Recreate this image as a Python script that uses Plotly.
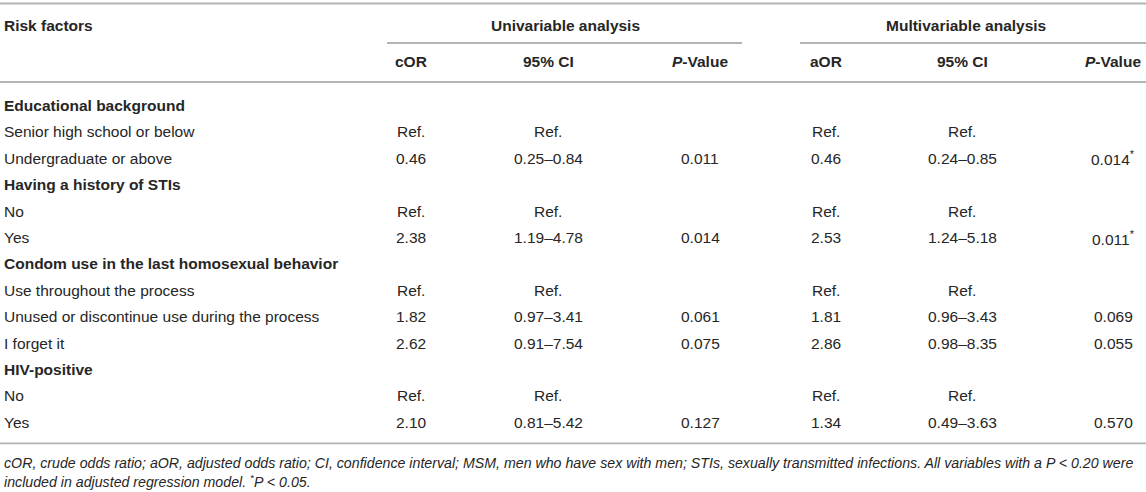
import plotly.graph_objects as go

# table contents
labels = ["Educational background", "Senior high school or below", "Undergraduate or above",
          "Having a history of STIs", "No", "Yes",
          "Condom use in the last homosexual behavior", "Use throughout the process",
          "Unused or discontinue use during the process", "I forget it",
          "HIV-positive", "No", "Yes"]
is_group = [True, False, False, True, False, False, True, False, False, False, True, False, False]
cor = ["", "Ref.", "0.46", "", "Ref.", "2.38", "", "Ref.", "1.82", "2.62", "", "Ref.", "2.10"]
cor_ci = ["", "Ref.", "0.25–0.84", "", "Ref.", "1.19–4.78", "", "Ref.", "0.97–3.41", "0.91–7.54", "", "Ref.", "0.81–5.42"]
cor_p = ["", "", "0.011", "", "", "0.014", "", "", "0.061", "0.075", "", "", "0.127"]
aor = ["", "Ref.", "0.46", "", "Ref.", "2.53", "", "Ref.", "1.81", "2.86", "", "Ref.", "1.34"]
aor_ci = ["", "Ref.", "0.24–0.85", "", "Ref.", "1.24–5.18", "", "Ref.", "0.96–3.43", "0.98–8.35", "", "Ref.", "0.49–3.63"]
aor_p = ["", "", "0.014*", "", "", "0.011*", "", "", "0.069", "0.055", "", "", "0.570"]

sub_headers = ["cOR", "95% CI", "<i>P</i>-Value", "aOR", "95% CI", "<i>P</i>-Value"]
group_headers = ["Univariable analysis", "Multivariable analysis"]
footnote = ["cOR, crude odds ratio; aOR, adjusted odds ratio; CI, confidence interval; MSM, men who "
            "have sex with men; STIs, sexually transmitted infections. All variables with a P &lt; 0.20 were",
            "included in adjusted regression model. <sup>*</sup>P &lt; 0.05."]

W, H = 1146, 492
FONT = "Liberation Sans, Arial, Helvetica, sans-serif"
TXT = "#262626"
LINE = "#b4b4b4"
FS = 15.5

col_x = [411, 548, 700, 826, 962, 1113]
group_x = [565, 966]
row_y0, row_dy = 105.5, 26.4

fig = go.Figure()
ann = []


def cell(x, y, text, anchor="center", bold=False, size=FS, italic=False):
    if bold:
        text = "<b>" + text + "</b>"
    if italic:
        text = "<i>" + text + "</i>"
    ann.append(dict(x=x, y=y, xref="x", yref="y", text=text, showarrow=False,
                    xanchor=anchor, yanchor="middle", borderpad=0,
                    font=dict(family=FONT, size=size, color=TXT)))


# header
cell(3, 25, "Risk factors", anchor="left", bold=True)
for gx, g in zip(group_x, group_headers):
    cell(gx, 25, g, bold=True)
for cx, h in zip(col_x, sub_headers):
    cell(cx, 61, h, bold=True)

# body
columns = [cor, cor_ci, cor_p, aor, aor_ci, aor_p]
for i, lab in enumerate(labels):
    y = row_y0 + row_dy * i
    cell(3, y, lab, anchor="left", bold=is_group[i])
    for cx, col in zip(col_x, columns):
        v = col[i]
        if v:
            cell(cx, y, v.replace("*", "<sup>*</sup>"))

last_y = row_y0 + row_dy * (len(labels) - 1)
cell(3, last_y + 41, footnote[0], anchor="left", size=14.2, italic=True)
cell(3, last_y + 59, footnote[1], anchor="left", size=14.2, italic=True)

shapes = []


def hline(x0, x1, y, w=1.8):
    shapes.append(dict(type="line", xref="x", yref="y", x0=x0, x1=x1, y0=y, y1=y,
                       line=dict(color=LINE, width=w)))


hline(0, W, 3.5, 2.2)
hline(387, 742, 43)
hline(800, W, 43)
hline(0, W, 82)
hline(0, W, last_y + 21)

fig.update_layout(
    width=W, height=H,
    margin=dict(l=0, r=0, t=0, b=0),
    paper_bgcolor="white", plot_bgcolor="white",
    xaxis=dict(range=[0, W], visible=False, fixedrange=True),
    yaxis=dict(range=[H, 0], visible=False, fixedrange=True),
    annotations=ann, shapes=shapes, showlegend=False,
)

fig.write_html("out.html", config={"displayModeBar": False},
               post_script="document.body.style.margin='0';")
